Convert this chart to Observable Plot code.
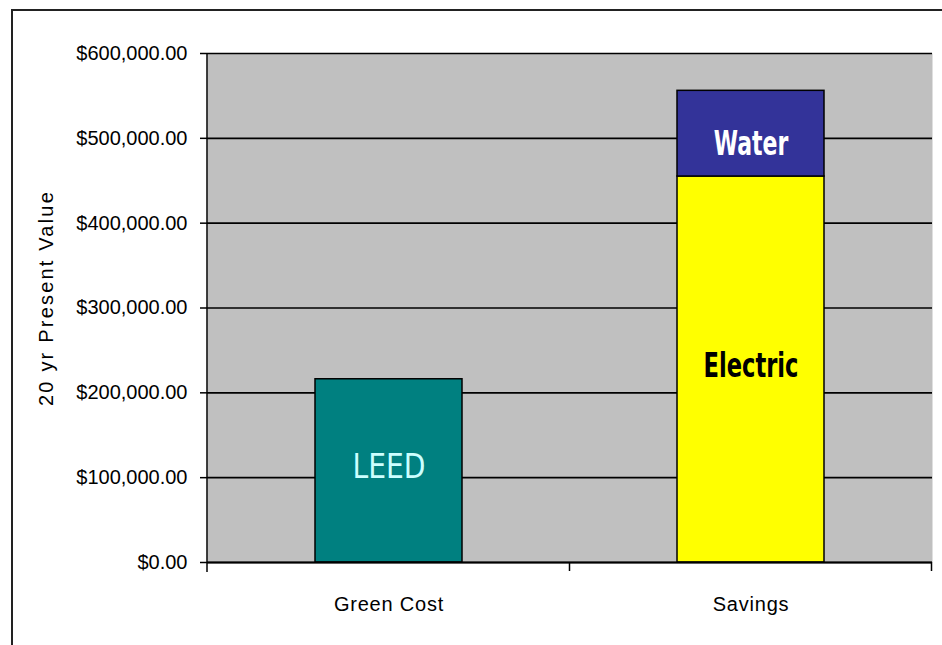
<!DOCTYPE html>
<html>
<head>
<meta charset="utf-8">
<script src="https://cdn.jsdelivr.net/npm/d3@7"></script>
<script src="https://cdn.jsdelivr.net/npm/@observablehq/plot@0.6"></script>
<style>
  html, body { margin: 0; padding: 0; background: #fff; overflow: hidden; }
  #chart svg { display: block; }
</style>
</head>
<body>
<div id="chart"></div>
<script>
// ---- data ----
const categories = ["Green Cost", "Savings"];
const parts = ["LEED", "Electric", "Water"];
const partCategory = ["Green Cost", "Savings", "Savings"];
const partValues = [216000, 455000, 101000];
const yTicks = [0, 100000, 200000, 300000, 400000, 500000, 600000];
const yTitle = "20 yr Present Value";

// ---- styles ----
const partColors = {LEED: "#008080", Electric: "#FFFF00", Water: "#333399"};
const labelColors = {LEED: "#CCFFFF", Electric: "#000000", Water: "#FFFFFF"};
const labelWeights = {LEED: "normal", Electric: "bold", Water: "bold"};
const labelSizes = {LEED: 33, Electric: 33, Water: 33};
const labelStretch = {LEED: 0.95, Electric: 0.76, Water: 0.74};
const labelDy = {LEED: -3, Electric: -3, Water: 11};

const data = parts.map((p, i) => ({part: p, cat: partCategory[i], value: partValues[i]}));

const W = 942, H = 645, ML = 207, MR = 10, MT = 53, MB = 83;
const narrow = "'Liberation Sans Narrow', 'DejaVu Sans Condensed', 'Liberation Sans', sans-serif";

// one text mark per label (all parts stacked, only one label shown per mark)
const labelMarks = parts.map(p =>
  Plot.text(data, Plot.stackY({
    x: "cat", y: "value", z: "part", order: parts,
    text: d => (d.part === p ? d.part : ""),
    fill: labelColors[p], fontWeight: labelWeights[p],
    fontFamily: narrow, fontSize: labelSizes[p], dy: labelDy[p]
  }))
);

const chart = Plot.plot({
  width: W, height: H,
  marginLeft: ML, marginRight: MR, marginTop: MT, marginBottom: MB,
  style: {fontFamily: "'Liberation Sans', Arial, sans-serif", fontSize: "20px", color: "#000", background: "transparent", overflow: "visible"},
  x: {domain: categories, paddingInner: 0.595, paddingOuter: 0.2975, align: 0.5, label: null},
  y: {domain: [0, 600000], label: null},
  color: {type: "identity"},
  marks: [
    Plot.frame({fill: "#c0c0c0", stroke: null}),
    Plot.gridY(yTicks, {stroke: "#000", strokeOpacity: 1, strokeWidth: 1.6}),
    Plot.barY(data, {x: "cat", y: "value", z: "part", order: parts, fill: d => partColors[d.part], stroke: "#000", strokeWidth: 1.5}),
    ...labelMarks,
    Plot.ruleY([0], {stroke: "#000", strokeWidth: 2}),
    Plot.axisY(yTicks, {tickFormat: d => "$" + d3.format(",.2f")(d), tickSize: 7, tickPadding: 13, fontSize: 20, stroke: "#000", strokeWidth: 1.5, label: null}),
    Plot.axisX({tickSize: 0, tickPadding: 34, fontSize: 20, label: null})
  ]
});

document.getElementById("chart").appendChild(chart);

// narrow the bar labels (Arial Narrow look)
d3.select(chart).selectAll('g[aria-label="text"] text').each(function () {
  const t = this.textContent;
  if (labelStretch[t]) {
    const w = this.getComputedTextLength();
    this.setAttribute("textLength", (w * labelStretch[t]).toFixed(1));
    this.setAttribute("lengthAdjust", "spacingAndGlyphs");
  }
});
// slight letter spacing on category labels
d3.select(chart).selectAll('g[aria-label="x-axis tick label"] text').attr("letter-spacing", "0.8px");

// decorations: outer border, y axis line, x ticks between categories, y title
const svg = d3.select(chart);
const xs = chart.scale("x");
const y0 = MT + (H - MT - MB);
svg.append("rect").attr("x", 12).attr("y", 10).attr("width", 1000).attr("height", 800)
  .attr("fill", "none").attr("stroke", "#222").attr("stroke-width", 2);
svg.append("line").attr("x1", ML).attr("x2", ML).attr("y1", MT).attr("y2", y0 + 10)
  .attr("stroke", "#000").attr("stroke-width", 1.5);
categories.forEach(c => {
  const cx = xs.apply(c) + xs.bandwidth / 2 + xs.step / 2;
  svg.append("line").attr("x1", cx).attr("x2", cx).attr("y1", y0).attr("y2", y0 + 9)
    .attr("stroke", "#000").attr("stroke-width", 1.5);
});
svg.append("text").text(yTitle)
  .attr("transform", `translate(46,298) rotate(-90)`)
  .attr("text-anchor", "middle").attr("dy", "0.35em")
  .attr("font-size", 20).attr("letter-spacing", "2.2px")
  .attr("font-family", "'Liberation Sans', Arial, sans-serif").attr("fill", "#000");
</script>
</body>
</html>
